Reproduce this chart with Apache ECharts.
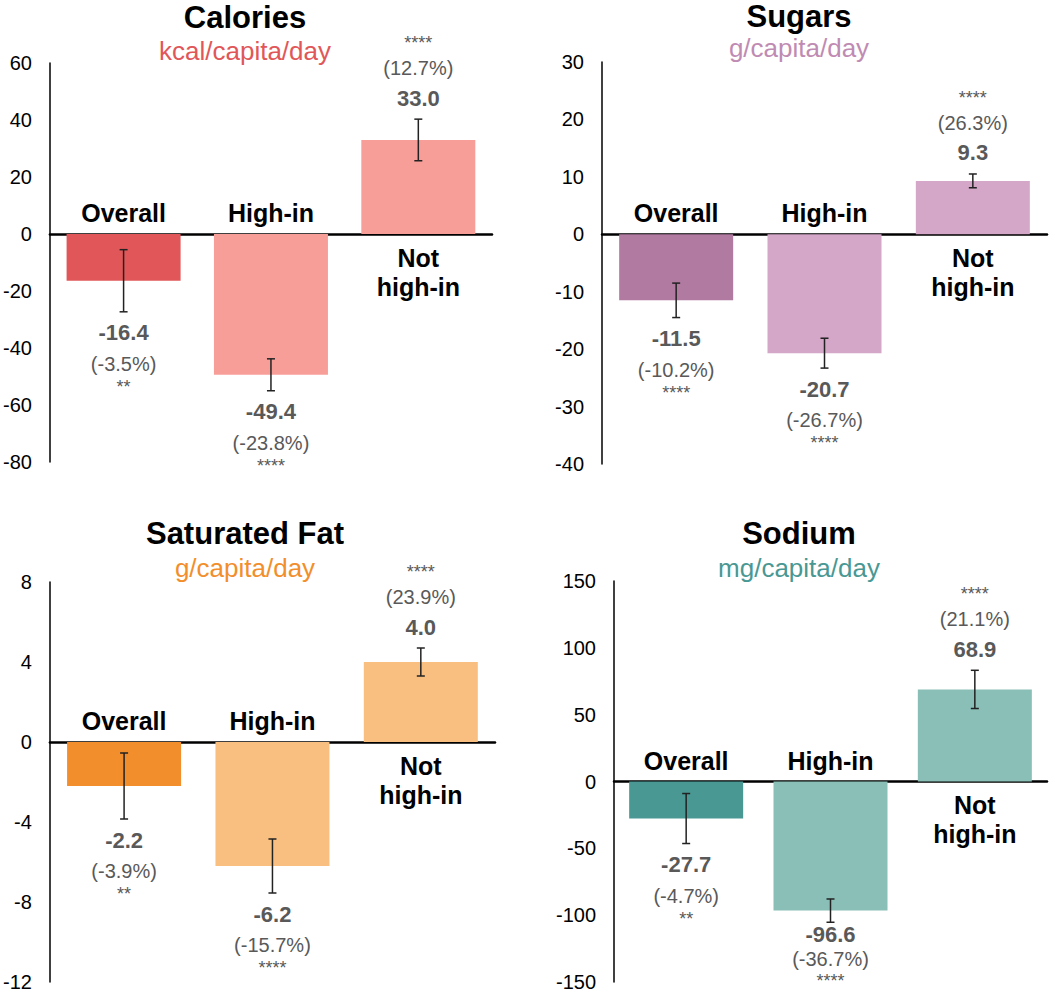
<!DOCTYPE html>
<html>
<head>
<meta charset="utf-8">
<script src="https://cdn.jsdelivr.net/npm/echarts@6/dist/echarts.min.js"></script>
<style>
  html, body { margin: 0; padding: 0; background: #fff; }
  #chart { width: 1050px; height: 992px; }
</style>
</head>
<body>
<div id="chart"></div>
<script>
// categories shared by all four panels
var categories = ['Overall', 'High-in', 'Not\nhigh-in'];
var titles = ['Calories', 'Sugars', 'Saturated Fat', 'Sodium'];
var units = ['kcal/capita/day', 'g/capita/day', 'g/capita/day', 'mg/capita/day'];

// mean change, error bar half-width, percent change, significance stars
var calorieMeans = [-16.4, -49.4, 33.0];
var calorieErrors = [10.9, 5.6, 7.3];
var caloriePct = ['-3.5%', '-23.8%', '12.7%'];
var calorieStars = ['**', '****', '****'];

var sugarMeans = [-11.5, -20.7, 9.3];
var sugarErrors = [3.0, 2.6, 1.2];
var sugarPct = ['-10.2%', '-26.7%', '26.3%'];
var sugarStars = ['****', '****', '****'];

var fatMeans = [-2.2, -6.2, 4.0];
var fatErrors = [1.65, 1.35, 0.7];
var fatPct = ['-3.9%', '-15.7%', '23.9%'];
var fatStars = ['**', '****', '****'];

var sodiumMeans = [-27.7, -96.6, 68.9];
var sodiumErrors = [18.7, 8.7, 14.3];
var sodiumPct = ['-4.7%', '-36.7%', '21.1%'];
var sodiumStars = ['**', '****', '****'];

// y axis ranges
var axisMin = [-80, -40, -12, -150];
var axisMax = [60, 30, 8, 150];
var axisStep = [20, 10, 4, 50];

var means = [calorieMeans, sugarMeans, fatMeans, sodiumMeans];
var errors = [calorieErrors, sugarErrors, fatErrors, sodiumErrors];
var pcts = [caloriePct, sugarPct, fatPct, sodiumPct];
var stars = [calorieStars, sugarStars, fatStars, sodiumStars];

// styling
var FONT = '"Liberation Sans", Arial, sans-serif';
var darkColors = ['#E15759', '#B07AA1', '#F28E2B', '#499894'];
var lightColors = ['#F79E99', '#D4A6C8', '#F9BF80', '#89BFB6'];
var unitColors = ['#E15759', '#C08BB3', '#F28E2B', '#499894'];
var labelGray = '#595959';

var grids = [
  { left: 49, top: 63, width: 443, height: 399 },
  { left: 602, top: 62, width: 445, height: 402 },
  { left: 48, top: 582, width: 447, height: 401 },
  { left: 614, top: 581, width: 433, height: 402 }
];
var titlePos = [
  { x: 245, y: 17, sy: 51 },
  { x: 799, y: 16, sy: 48 },
  { x: 245, y: 533, sy: 568 },
  { x: 799, y: 533, sy: 568 }
];

function txt(x, y, s, font, color, extra) {
  var style = { text: s, x: 0, y: 0, font: font, fill: color, align: 'center', verticalAlign: 'middle' };
  if (extra) { for (var k in extra) style[k] = extra[k]; }
  return { type: 'text', x: x, y: y, style: style };
}

function makeRender(p) {
  return function (params, api) {
    var i = api.value(0);
    var mean = api.value(1);
    var err = api.value(2);
    var hi = api.coord([i, mean + err]);
    var lo = api.coord([i, mean - err]);
    var zero = api.coord([i, 0]);
    var x = hi[0];
    var cap = 4;
    var ls = { stroke: '#222', lineWidth: 1.5 };
    var kids = [
      { type: 'line', shape: { x1: x, y1: hi[1], x2: x, y2: lo[1] }, style: ls },
      { type: 'line', shape: { x1: x - cap, y1: hi[1], x2: x + cap, y2: hi[1] }, style: ls },
      { type: 'line', shape: { x1: x - cap, y1: lo[1], x2: x + cap, y2: lo[1] }, style: ls }
    ];
    var vY, pY, sY;
    if (mean < 0) {
      // keep the stack inside the picture: stars stop at the bottom edge
      sY = Math.min(lo[1] + 75, api.getHeight() - 11);
      pY = Math.min(lo[1] + 52, sY - 22.5);
      vY = Math.min(lo[1] + 21, pY - 24.5);
    } else {
      vY = hi[1] - 21; pY = hi[1] - 51; sY = hi[1] - 76;
    }
    kids.push(txt(x, vY, mean.toFixed(1), 'bold 22px ' + FONT, labelGray));
    kids.push(txt(x, pY, '(' + pcts[p][params.dataIndex] + ')', '20px ' + FONT, labelGray));
    kids.push(txt(x, sY, stars[p][params.dataIndex], '18px ' + FONT, labelGray));
    // category label sits on the opposite side of the zero line
    if (mean < 0) {
      kids.push(txt(x, zero[1] - 21, categories[i], 'bold 25px ' + FONT, '#000'));
    } else {
      kids.push(txt(x, zero[1] + 9, categories[i], 'bold 25px ' + FONT, '#000',
        { verticalAlign: 'top', lineHeight: 29 }));
    }
    return { type: 'group', children: kids };
  };
}

var option = {
  backgroundColor: '#fff',
  animation: false,
  grid: [], xAxis: [], yAxis: [], series: [], graphic: []
};

for (var p = 0; p < 4; p++) {
  option.grid.push(grids[p]);
  option.xAxis.push({
    type: 'category', gridIndex: p, data: categories,
    axisLine: { onZero: true, lineStyle: { color: '#000', width: 2.5 } },
    axisTick: { show: false }, axisLabel: { show: false }, splitLine: { show: false }
  });
  option.yAxis.push({
    type: 'value', gridIndex: p, min: axisMin[p], max: axisMax[p], interval: axisStep[p],
    axisLine: { show: true, onZero: false, lineStyle: { color: '#000', width: 1.5 } },
    axisTick: { show: false }, splitLine: { show: false },
    axisLabel: { color: '#000', fontSize: 20, fontFamily: FONT, margin: 18 }
  });
  var barData = [];
  var errData = [];
  for (var i = 0; i < categories.length; i++) {
    barData.push({ value: means[p][i], itemStyle: { color: i === 0 ? darkColors[p] : lightColors[p] } });
    errData.push([i, means[p][i], errors[p][i]]);
  }
  option.series.push({
    type: 'bar', xAxisIndex: p, yAxisIndex: p, data: barData, barWidth: 114
  });
  option.series.push({
    type: 'custom', xAxisIndex: p, yAxisIndex: p, data: errData,
    renderItem: makeRender(p), z: 5, clip: false
  });
  option.graphic.push(
    { type: 'text', x: titlePos[p].x, y: titlePos[p].y,
      style: { text: titles[p], font: 'bold 31px ' + FONT, fill: '#000', align: 'center', verticalAlign: 'middle' } },
    { type: 'text', x: titlePos[p].x, y: titlePos[p].sy,
      style: { text: units[p], font: '26px ' + FONT, fill: unitColors[p], align: 'center', verticalAlign: 'middle' } }
  );
}

var chart = echarts.init(document.getElementById('chart'), null, { renderer: 'svg' });
chart.setOption(option);
</script>
</body>
</html>
